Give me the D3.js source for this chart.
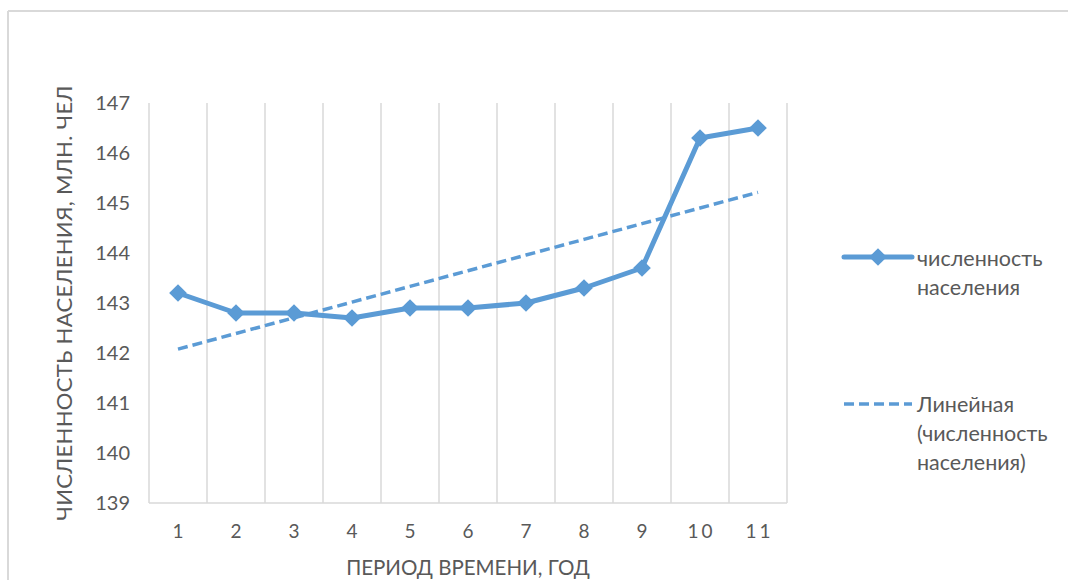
<!DOCTYPE html>
<html>
<head>
<meta charset="utf-8">
<script src="https://cdn.jsdelivr.net/npm/d3@7/dist/d3.min.js"></script>
<style>
  html, body { margin: 0; padding: 0; background: #fff; }
  svg { display: block; }
  text { font-family: "Lato", "Open Sans", "Noto Sans", sans-serif; fill: #595959; }
</style>
</head>
<body>
<svg id="chart" width="1068" height="580"></svg>
<script>
const categories = ["1","2","3","4","5","6","7","8","9","10","11"];
const population = [143.2, 142.8, 142.8, 142.7, 142.9, 142.9, 143.0, 143.3, 143.7, 146.3, 146.5];
const yTicks = [139, 140, 141, 142, 143, 144, 145, 146, 147];
const seriesName = ["численность", "населения"];
const trendName = ["Линейная", "(численность", "населения)"];
const xTitle = "ПЕРИОД ВРЕМЕНИ, ГОД";
const yTitle = "ЧИСЛЕННОСТЬ НАСЕЛЕНИЯ, МЛН. ЧЕЛ";

const color = "#5B9BD5";
const svg = d3.select("#chart");
const m = { left: 149, right: 787, top: 103, bottom: 503 };

// chart frame (top and left edge visible)
svg.append("line").attr("x1", 8).attr("x2", 1068).attr("y1", 11).attr("y2", 11)
  .attr("stroke", "#d9d9d9").attr("stroke-width", 2);
svg.append("line").attr("x1", 8).attr("x2", 8).attr("y1", 11).attr("y2", 580)
  .attr("stroke", "#d9d9d9").attr("stroke-width", 2);

const x = d3.scaleBand().domain(categories).range([m.left, m.right]).padding(0);
const y = d3.scaleLinear().domain([139, 147]).range([m.bottom, m.top]);
const cx = d => x(d) + x.bandwidth() / 2;

// vertical gridlines at category boundaries
const bounds = categories.map(c => x(c)).concat([x(categories[categories.length - 1]) + x.bandwidth()]);
svg.append("g").selectAll("line").data(bounds).join("line")
  .attr("x1", d => d).attr("x2", d => d)
  .attr("y1", m.top).attr("y2", m.bottom)
  .attr("stroke", "#d9d9d9").attr("stroke-width", 1.5);

// bottom axis line
svg.append("line").attr("x1", m.left).attr("x2", m.right)
  .attr("y1", m.bottom).attr("y2", m.bottom)
  .attr("stroke", "#d9d9d9").attr("stroke-width", 1.5);

// y axis labels
const yAxis = d3.axisLeft(y).tickValues(yTicks).tickSize(0).tickPadding(0).tickFormat(d3.format("d"));
const gy = svg.append("g").attr("transform", `translate(${m.left - 19},0)`).call(yAxis);
gy.select(".domain").remove();
gy.selectAll("text").attr("font-size", 20).style("font-family", "Lato, 'Open Sans', sans-serif").attr("fill", "#595959");

// x axis labels
const xAxis = d3.axisBottom(x).tickSize(0).tickPadding(0);
const gx = svg.append("g").attr("transform", `translate(0,${m.bottom + 21})`).call(xAxis);
gx.select(".domain").remove();
gx.selectAll("text").attr("font-size", 19).attr("letter-spacing", 3).attr("dx", 1.5)
  .style("font-family", "Lato, 'Open Sans', sans-serif").attr("fill", "#595959");

// axis titles
svg.append("text").attr("x", (m.left + m.right) / 2).attr("y", 575)
  .attr("text-anchor", "middle").attr("font-size", 20.5).text(xTitle);
svg.append("text").attr("transform", `translate(72,${(m.top + m.bottom) / 2}) rotate(-90)`)
  .attr("text-anchor", "middle").attr("font-size", 22).attr("letter-spacing", 0.3).text(yTitle);

// linear trend (least squares)
const xs = categories.map((c, i) => i + 1);
const mx = d3.mean(xs), my = d3.mean(population);
const slope = d3.sum(xs, (v, i) => (v - mx) * (population[i] - my)) / d3.sum(xs, v => (v - mx) * (v - mx));
const icpt = my - slope * mx;
const trend = categories.map((c, i) => icpt + slope * (i + 1));

const line = d3.line().x((d, i) => cx(categories[i])).y(d => y(d));

svg.append("path").datum(trend).attr("d", line)
  .attr("fill", "none").attr("stroke", color).attr("stroke-width", 3.5)
  .attr("stroke-dasharray", "10,5");

svg.append("path").datum(population).attr("d", line)
  .attr("fill", "none").attr("stroke", color).attr("stroke-width", 5)
  .attr("stroke-linejoin", "round");

const diamond = d3.symbol().type(d3.symbolDiamond2).size(200);
svg.append("g").selectAll("path").data(population).join("path")
  .attr("d", diamond)
  .attr("transform", (d, i) => `translate(${cx(categories[i])},${y(d)})`)
  .attr("fill", color);

// legend
const lg = svg.append("g");
lg.append("line").attr("x1", 844).attr("x2", 912).attr("y1", 257).attr("y2", 257)
  .attr("stroke", color).attr("stroke-width", 5).attr("stroke-linecap", "round");
lg.append("path").attr("d", diamond).attr("transform", "translate(878,257)").attr("fill", color);
seriesName.forEach((t, i) => {
  lg.append("text").attr("x", 917).attr("y", 266 + i * 29).attr("font-size", 21.5).text(t);
});
lg.append("line").attr("x1", 844).attr("x2", 912).attr("y1", 404).attr("y2", 404)
  .attr("stroke", color).attr("stroke-width", 3.5).attr("stroke-dasharray", "10,5");
trendName.forEach((t, i) => {
  lg.append("text").attr("x", 917).attr("y", 412 + i * 29).attr("font-size", 21.5).text(t);
});
</script>
</body>
</html>
